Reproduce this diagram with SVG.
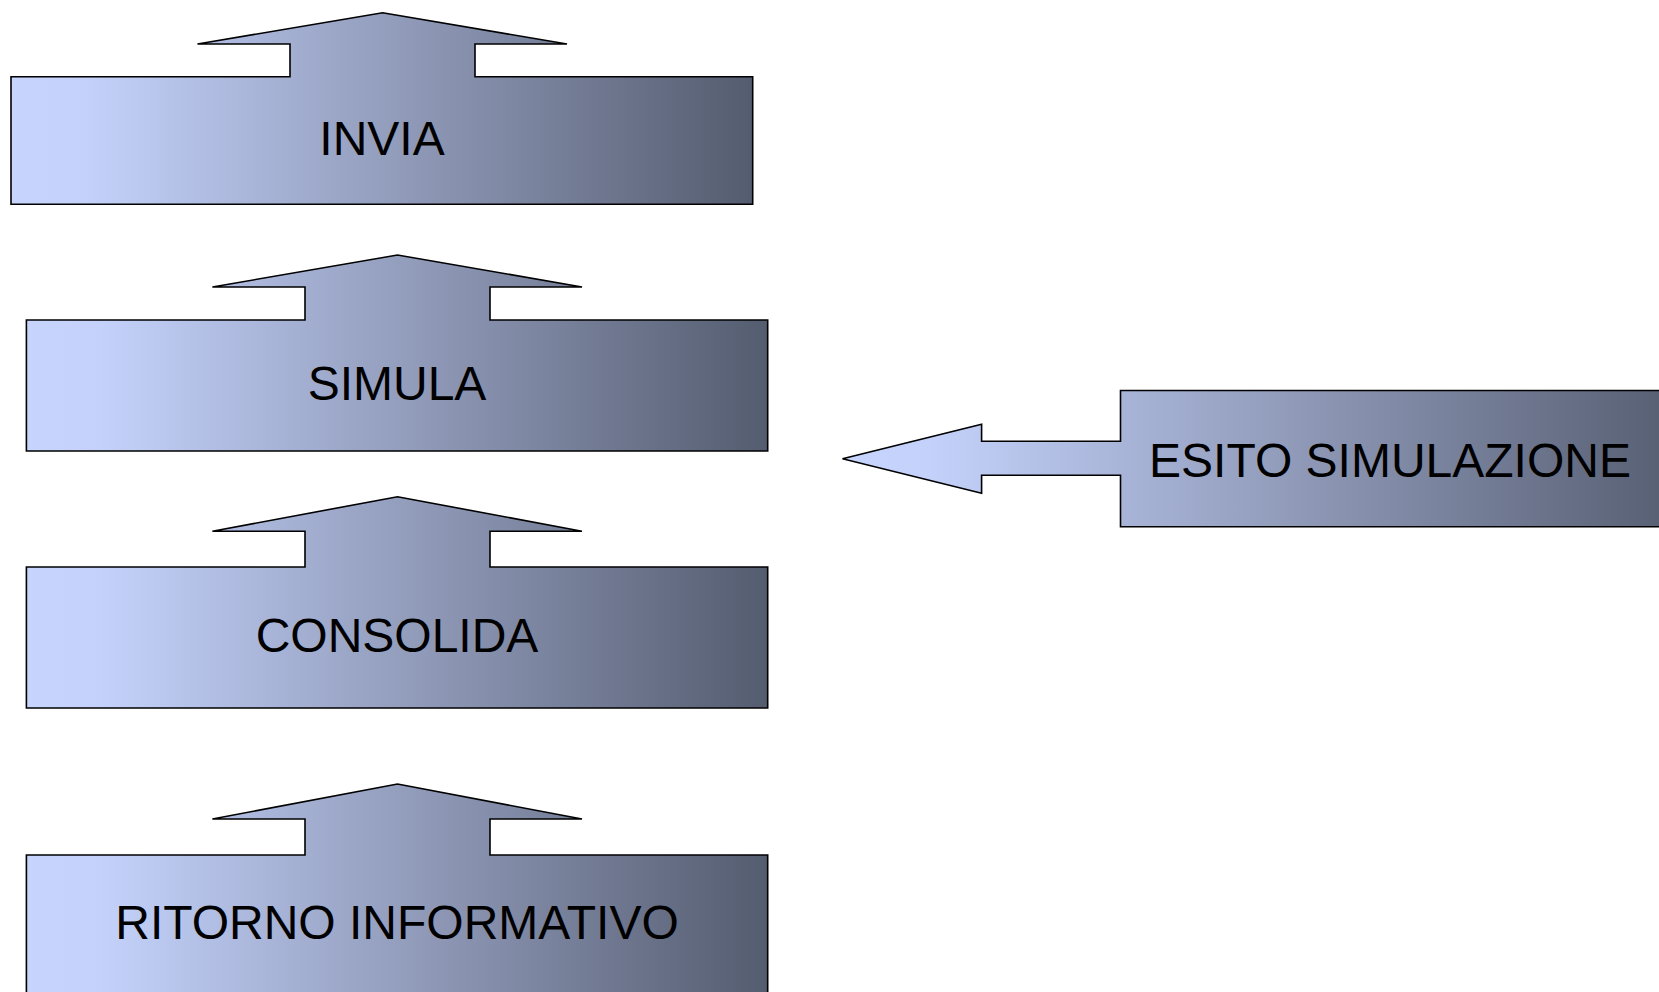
<svg xmlns="http://www.w3.org/2000/svg" width="1659" height="992" viewBox="0 0 1659 992">
<style>
.shape{fill:url(#g);stroke:#000;stroke-width:1.6;stroke-linejoin:miter}
.lbl{font-family:"Liberation Sans",Arial,sans-serif;font-size:48px;fill:#000;text-anchor:middle}
</style>
<defs>
<linearGradient id="g" x1="0" y1="0" x2="1" y2="0">
<stop offset="0" stop-color="#c7d5fe"/>
<stop offset="0.1" stop-color="#c4d2fb"/>
<stop offset="0.55" stop-color="#8e98b6"/>
<stop offset="1" stop-color="#545c6f"/>
</linearGradient>
</defs>
<rect width="1659" height="992" fill="#fff"/>
<g id="invia">
<path class="shape" d="M11,76.7 H290 V44 H197.5 L382.6,12.7 L567,44 H475 V76.7 H752.7 V204.3 H11 Z"/>
<text class="lbl" x="382" y="155">INVIA</text>
</g>
<g id="simula">
<path class="shape" d="M26.4,320 H305 V287 H212.4 L397.5,255 L582,287 H490 V320 H767.7 V451 H26.4 Z"/>
<text class="lbl" x="397" y="400">SIMULA</text>
</g>
<g id="consolida">
<path class="shape" d="M26.4,567 H305 V531.3 H212.4 L397.5,496.7 L582,531.3 H490 V567 H767.7 V708 H26.4 Z"/>
<text class="lbl" x="397" y="652">CONSOLIDA</text>
</g>
<g id="ritorno">
<path class="shape" d="M26.4,855 H305 V819 H212.4 L397.5,784 L582,819 H490 V855 H767.7 V1010 H26.4 Z"/>
<text class="lbl" x="397" y="938.5">RITORNO INFORMATIVO</text>
</g>
<g id="esito">
<path class="shape" d="M842.5,458.7 L981.6,424.3 V441.3 H1120.5 V390.5 H1690 V526.7 H1120.5 V475.3 H981.6 V493.3 Z"/>
<text class="lbl" x="1390" y="477">ESITO SIMULAZIONE</text>
</g>
<g id="connectors"></g>
</svg>
